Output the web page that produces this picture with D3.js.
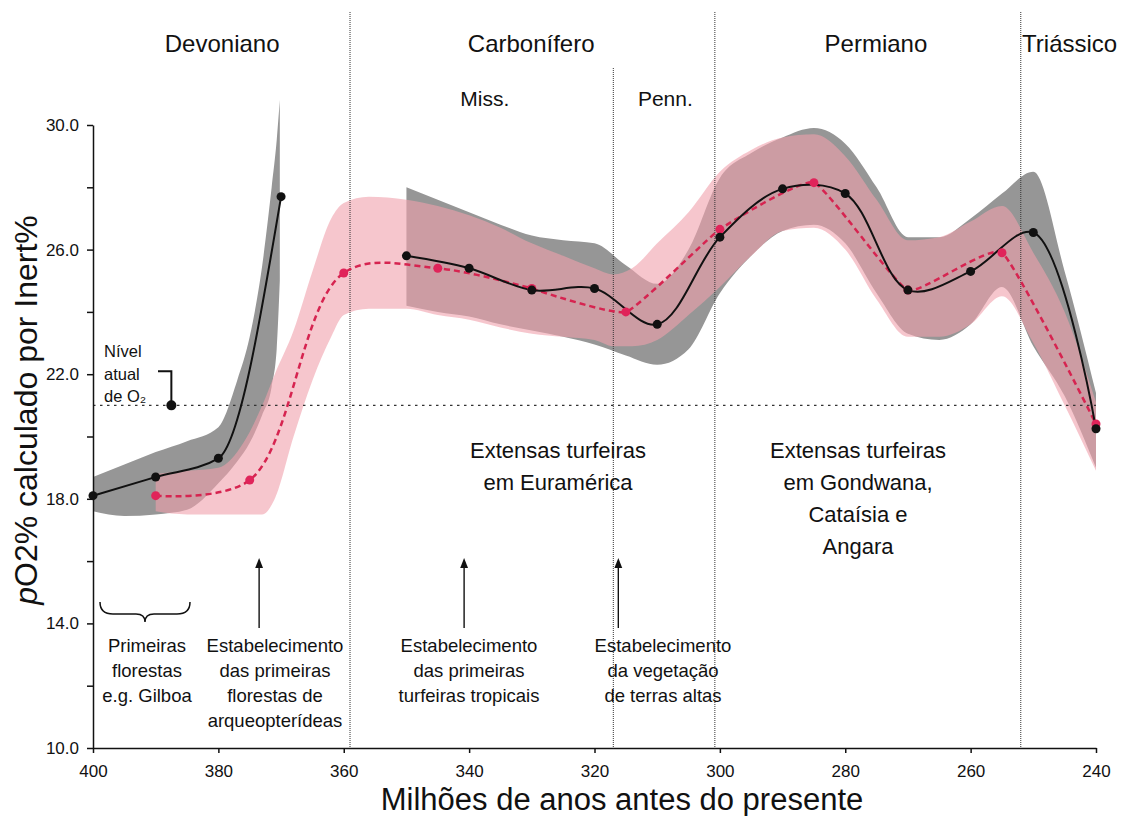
<!DOCTYPE html>
<html>
<head>
<meta charset="utf-8">
<script src="https://cdn.jsdelivr.net/npm/d3@7"></script>
<style>
  body { margin: 0; background: #fff; }
  text { font-family: "Liberation Sans", Arial, sans-serif; fill: #111; }
</style>
</head>
<body>
<div id="chart"></div>
<script>
// black series (split in two pieces)
const blackAge1 = [400, 390, 380, 370];
const blackO2_1 = [18.1, 18.7, 19.3, 27.7];
const blackAge2 = [350, 340, 330, 320, 310, 300, 290, 280, 270, 260, 250, 240];
const blackO2_2 = [25.8, 25.4, 24.7, 24.75, 23.6, 26.4, 27.95, 27.8, 24.7, 25.3, 26.55, 20.25];

// red series
const redAge = [390, 375, 360, 345, 330, 315, 300, 285, 270, 255, 240];
const redO2 = [18.1, 18.6, 25.25, 25.4, 24.75, 24.0, 26.65, 28.15, 24.7, 25.9, 20.4];

// grey uncertainty band
const grayAge1 = [400, 395, 390, 385, 380, 377, 375, 373, 371.5, 370.7, 370.2];
const grayHi1 = [18.7, 19.1, 19.5, 19.85, 20.3, 21.8, 23.2, 25.5, 28.0, 29.5, 30.8];
const grayLo1 = [17.6, 17.45, 17.5, 17.65, 18.5, 19.2, 19.8, 20.7, 21.6, 22.8, 25.0];
const grayAge2 = [350, 345, 340, 335, 330, 325, 320, 315, 310, 305, 300, 295, 290, 285, 280, 275, 270, 265, 260, 255, 250, 245, 240];
const grayHi2 = [28.0, 27.6, 27.2, 26.8, 26.45, 26.3, 26.2, 25.5, 24.9, 26.0, 28.3, 29.1, 29.6, 29.9, 29.4, 28.0, 26.4, 26.4, 27.0, 27.8, 28.5, 25.3, 21.4];
const grayLo2 = [24.2, 24.0, 23.85, 23.6, 23.4, 23.2, 22.95, 22.6, 22.3, 22.8, 24.6, 25.8, 26.6, 26.8, 26.2, 24.6, 23.3, 23.1, 23.6, 24.8, 22.9, 21.3, 19.0];

// pink uncertainty band
const pinkAge = [390, 385, 380, 376, 373, 371, 368, 365, 362, 360, 356, 350, 345, 340, 335, 330, 325, 320, 317, 314, 310, 305, 300, 295, 290, 285, 280, 275, 270, 265, 260, 255, 250, 245, 240];
const pinkHi = [18.8, 18.9, 19.0, 19.8, 21.0, 22.0, 23.4, 25.3, 27.0, 27.5, 27.7, 27.6, 27.4, 27.1, 26.7, 26.2, 25.8, 25.4, 25.2, 25.4, 26.2, 27.2, 28.5, 29.2, 29.6, 29.7, 29.0, 27.6, 26.3, 26.4, 26.9, 27.4, 25.9, 24.0, 21.1];
const pinkLo = [17.6, 17.5, 17.5, 17.5, 17.5, 18.0, 20.0, 21.8, 23.2, 23.9, 24.1, 24.1, 23.9, 23.75, 23.5, 23.3, 23.2, 23.1, 22.9, 22.9, 23.1, 23.9, 24.8, 25.8, 26.6, 26.7, 26.0, 24.4, 23.2, 23.2, 23.6, 24.5, 23.0, 21.0, 18.9];

const presentO2 = 21.0;
const boundaryAge = [359, 300.8, 252];
const subBoundaryAge = [317];
const yTicks = [10, 12, 14, 16, 18, 20, 22, 24, 26, 28, 30];
const yLabels = [10, 14, 18, 22, 26, 30];
const xTicks = [400, 380, 360, 340, 320, 300, 280, 260, 240];

const width = 1128;
const height = 816;

const x = d3.scaleLinear().domain([400, 240]).range([93, 1096]);
const y = d3.scaleLinear().domain([10, 30]).range([748, 125]);

const svg = d3.select("#chart")
    .append("svg")
    .attr("width", width)
    .attr("height", height);

const zip = (a, b) => a.map((v, i) => [v, b[i]]);
const zip3 = (a, lo, hi) => a.map((v, i) => [v, lo[i], hi[i]]);

const band = d3.area()
    .x(d => x(d[0]))
    .y0(d => y(d[1]))
    .y1(d => y(d[2]))
    .curve(d3.curveMonotoneX);

// bands
svg.append("path")
    .attr("d", band(zip3(grayAge1, grayLo1, grayHi1)))
    .attr("fill", "#969696");
svg.append("path")
    .attr("d", band(zip3(grayAge2, grayLo2, grayHi2)))
    .attr("fill", "#969696");
svg.append("path")
    .attr("d", band(zip3(pinkAge, pinkLo, pinkHi)))
    .attr("fill", "rgb(240,160,172)")
    .attr("fill-opacity", 0.6);

// geological boundaries
svg.append("g")
    .selectAll("line")
    .data(boundaryAge)
    .join("line")
    .attr("x1", d => x(d)).attr("x2", d => x(d))
    .attr("y1", 12).attr("y2", y(10))
    .attr("stroke", "#333")
    .attr("stroke-width", 1)
    .attr("stroke-dasharray", "1,1");
svg.append("g")
    .selectAll("line")
    .data(subBoundaryAge)
    .join("line")
    .attr("x1", d => x(d)).attr("x2", d => x(d))
    .attr("y1", 68).attr("y2", y(10))
    .attr("stroke", "#333")
    .attr("stroke-width", 1)
    .attr("stroke-dasharray", "1,1");

// present-day level
svg.append("line")
    .attr("x1", x(400)).attr("x2", x(240))
    .attr("y1", y(presentO2)).attr("y2", y(presentO2))
    .attr("stroke", "#333")
    .attr("stroke-width", 1.2)
    .attr("stroke-dasharray", "2.5,4.5");

// red dashed series: smooth rise, then a stiffer curve
const redPts = zip(redAge, redO2);
const redLine1 = d3.line().x(d => x(d[0])).y(d => y(d[1])).curve(d3.curveCatmullRom.alpha(0.5));
const redLine2 = d3.line().x(d => x(d[0])).y(d => y(d[1])).curve(d3.curveCardinal.tension(0.6));
[redLine1(redPts.slice(0, 5)), redLine2(redPts.slice(4))].forEach(p => {
    svg.append("path")
        .attr("d", p)
        .attr("fill", "none")
        .attr("stroke", "#d62450")
        .attr("stroke-width", 2.5)
        .attr("stroke-dasharray", "6,4");
});

// black series
const blackPts1 = zip(blackAge1, blackO2_1);
const blackPts2 = zip(blackAge2, blackO2_2);
svg.append("path")
    .attr("d", d3.line().x(d => x(d[0])).y(d => y(d[1])).curve(d3.curveMonotoneX)(blackPts1))
    .attr("fill", "none").attr("stroke", "#111").attr("stroke-width", 2);
svg.append("path")
    .attr("d", d3.line().x(d => x(d[0])).y(d => y(d[1])).curve(d3.curveCatmullRom.alpha(0.5))(blackPts2))
    .attr("fill", "none").attr("stroke", "#111").attr("stroke-width", 2);

svg.append("g")
    .selectAll("circle")
    .data(redPts)
    .join("circle")
    .attr("cx", d => x(d[0])).attr("cy", d => y(d[1]))
    .attr("r", 4.5)
    .attr("fill", "#e0245a");
svg.append("g")
    .selectAll("circle")
    .data(blackPts1.concat(blackPts2))
    .join("circle")
    .attr("cx", d => x(d[0])).attr("cy", d => y(d[1]))
    .attr("r", 4.5)
    .attr("fill", "#111");

// axes
const yAxis = svg.append("g")
    .attr("transform", `translate(${x(400)},0)`)
    .call(d3.axisLeft(y).tickValues(yTicks).tickSize(6).tickSizeOuter(0).tickPadding(8)
        .tickFormat(d => yLabels.includes(d) ? d3.format(".1f")(d) : ""));
yAxis.selectAll("text").attr("font-size", 17).attr("font-family", null);
yAxis.selectAll("path, line").attr("stroke", "#111").attr("stroke-width", 1.5);

const xAxis = svg.append("g")
    .attr("transform", `translate(0,${y(10)})`)
    .call(d3.axisBottom(x).tickValues(xTicks).tickSize(5).tickSizeOuter(0).tickPadding(12)
        .tickFormat(d3.format("d")));
xAxis.selectAll("text").attr("font-size", 17).attr("font-family", null);
xAxis.selectAll("path, line").attr("stroke", "#111").attr("stroke-width", 1.5);

// axis titles
svg.append("text")
    .attr("x", 622).attr("y", 810)
    .attr("text-anchor", "middle")
    .attr("font-size", 31)
    .text("Milhões de anos antes do presente");

const yt = svg.append("text")
    .attr("transform", "translate(37,410) rotate(-90)")
    .attr("text-anchor", "middle")
    .attr("font-size", 32);
yt.append("tspan").attr("font-style", "italic").text("p");
yt.append("tspan").text("O2% calculado por Inert%");

// period names
const periods = [["Devoniano", 379.4], ["Carbonífero", 330.1], ["Permiano", 275.1], ["Triássico", 244.2]];
svg.append("g")
    .selectAll("text")
    .data(periods)
    .join("text")
    .attr("x", d => x(d[1])).attr("y", 52)
    .attr("text-anchor", "middle")
    .attr("font-size", 24)
    .text(d => d[0]);
const subPeriods = [["Miss.", 337.5], ["Penn.", 308.7]];
svg.append("g")
    .selectAll("text")
    .data(subPeriods)
    .join("text")
    .attr("x", d => x(d[1])).attr("y", 106)
    .attr("text-anchor", "middle")
    .attr("font-size", 21)
    .text(d => d[0]);

// multi-line helper
function block(lines, cx, top, size, gap) {
    const t = svg.append("text")
        .attr("text-anchor", "middle")
        .attr("font-size", size);
    lines.forEach((s, i) => t.append("tspan").attr("x", cx).attr("y", top + i * gap).text(s));
    return t;
}

block(["Extensas turfeiras", "em Euramérica"], 558, 458, 22, 32);
block(["Extensas turfeiras", "em Gondwana,", "Cataísia e", "Angara"], 858, 458, 22, 32);

block(["Primeiras", "florestas", "e.g. Gilboa"], 147, 652, 18.5, 25);
block(["Estabelecimento", "das primeiras", "florestas de", "arqueopterídeas"], 275, 652, 18.5, 25);
block(["Estabelecimento", "das primeiras", "turfeiras tropicais"], 469, 652, 18.5, 25);
block(["Estabelecimento", "da vegetação", "de terras altas"], 663, 652, 18.5, 25);

// present-level note
const note = svg.append("text").attr("font-size", 16.5);
note.append("tspan").attr("x", 104).attr("y", 357).text("Nível");
note.append("tspan").attr("x", 104).attr("y", 380).text("atual");
note.append("tspan").attr("x", 104).attr("y", 402).text("de O₂");
svg.append("path")
    .attr("d", `M158,${y(21.0) - 34} H${x(387.5)} V${y(presentO2)}`)
    .attr("fill", "none").attr("stroke", "#111").attr("stroke-width", 2);
svg.append("circle")
    .attr("cx", x(387.5)).attr("cy", y(presentO2)).attr("r", 5)
    .attr("fill", "#111");

// brace
svg.append("path")
    .attr("d", "M100,602 Q100,614 113,614 L136,614 Q145,614 145,622 Q145,614 154,614 L177,614 Q190,614 190,602")
    .attr("fill", "none").attr("stroke", "#111").attr("stroke-width", 1.5);

// arrows
svg.append("defs").append("marker")
    .attr("id", "head")
    .attr("viewBox", "0 0 10 10")
    .attr("refX", 5).attr("refY", 5)
    .attr("markerWidth", 7).attr("markerHeight", 7)
    .attr("orient", "auto")
    .append("path").attr("d", "M0,1 L10,5 L0,9 Z").attr("fill", "#111");
svg.append("g")
    .selectAll("line")
    .data([373.5, 340.8, 316.2])
    .join("line")
    .attr("x1", d => x(d)).attr("x2", d => x(d))
    .attr("y1", 628).attr("y2", 563)
    .attr("stroke", "#111").attr("stroke-width", 1.4)
    .attr("marker-end", "url(#head)");
</script>
</body>
</html>
